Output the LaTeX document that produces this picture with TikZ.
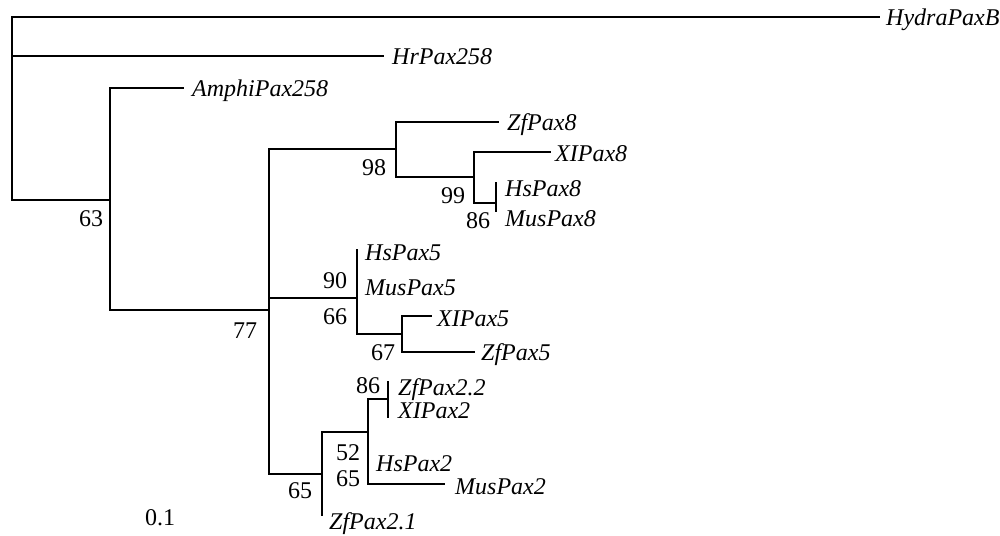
\documentclass[tikz,border=0pt]{standalone}
\usepackage{fontspec}
\setmainfont{Liberation Serif}
\usetikzlibrary{positioning}

\begin{document}
\begin{tikzpicture}[x=1pt, y=-1pt,
	branch/.style={line width=1.8pt, line cap=rect},
	taxon/.style={font=\fontsize{24}{28}\selectfont\itshape, anchor=base west, inner sep=0pt},
	boot/.style={font=\fontsize{24}{28}\selectfont, anchor=base, inner sep=0pt}]
	\useasboundingbox (0,0) rectangle (1000,535);
	% inner nodes
	\coordinate (root) at (12,100);
	\coordinate (n63) at (110,200);
	\coordinate (n77) at (269,310);
	\coordinate (n98) at (396,149);
	\coordinate (n99) at (474,177);
	\coordinate (n86a) at (496,203);
	\coordinate (n90) at (357,298);
	\coordinate (n67) at (402,334);
	\coordinate (n65) at (322,474);
	\coordinate (n52) at (368,432);
	\coordinate (n86b) at (388,399);
	% tips
	\coordinate (t-hydra) at (879,17);
	\coordinate (t-hr) at (383,56);
	\coordinate (t-amphi) at (183,88);
	\coordinate (t-zf8) at (498,122);
	\coordinate (t-xl8) at (550,152);
	\coordinate (t-hs8) at (496,183);
	\coordinate (t-mus8) at (496,211);
	\coordinate (t-hs5) at (357,250);
	\coordinate (t-xl5) at (431,316);
	\coordinate (t-zf5) at (474,352);
	\coordinate (t-zf22) at (388,382);
	\coordinate (t-xl2) at (388,417);
	\coordinate (t-mus2) at (444,484);
	\coordinate (t-zf21) at (322,515);

	% branches
	\draw[branch] (t-hydra) -| (root) |- (n63);
	\draw[branch] (root) |- (t-hr);
	\draw[branch] (t-amphi) -| (n63) |- (n77);
	\draw[branch] (n98) -| (n77) |- (n65);
	\draw[branch] (n77) |- (n90);
	\draw[branch] (t-zf8) -| (n98) |- (n99);
	\draw[branch] (t-xl8) -| (n99) |- (n86a);
	\draw[branch] (t-hs8) -- (t-mus8);
	\draw[branch] (t-hs5) -- (n90) |- (n67);
	\draw[branch] (t-xl5) -| (n67) |- (t-zf5);
	\draw[branch] (n52) -| (n65) -- (t-zf21);
	\draw[branch] (n86b) -| (n52) |- (t-mus2);
	\draw[branch] (t-zf22) -- (t-xl2);

	% taxa
	\node[taxon] (hydra) at (886,26) {HydraPaxB};
	\node[taxon] (hr) at (392,64) {HrPax258};
	\node[taxon] (amphi) at (192,96) {AmphiPax258};
	\node[taxon] (zf8) at (507,130) {ZfPax8};
	\node[taxon] (xl8) at (555,161) {XIPax8};
	\node[taxon] (hs8) at (505,196) {HsPax8};
	\node[taxon] (mus8) at (505,226) {MusPax8};
	\node[taxon] (hs5) at (365,260) {HsPax5};
	\node[taxon] (mus5) at (365,295) {MusPax5};
	\node[taxon] (xl5) at (437,326) {XIPax5};
	\node[taxon] (zf5) at (481,360) {ZfPax5};
	\node[taxon] (zf22) at (398,395) {ZfPax2.2};
	\node[taxon] (xl2) at (398,418) {XIPax2};
	\node[taxon] (hs2) at (376,471) {HsPax2};
	\node[taxon] (mus2) at (455,494) {MusPax2};
	\node[taxon] (zf21) at (329,529) {ZfPax2.1};

	% bootstrap values
	\node[boot] (b63) at (91,226) {63};
	\node[boot] (b77) at (245,338) {77};
	\node[boot] (b98) at (374,175) {98};
	\node[boot] (b99) at (453,203) {99};
	\node[boot] (b86a) at (478,228) {86};
	\node[boot] (b90) at (335,288) {90};
	\node[boot] (b66) at (335,324) {66};
	\node[boot] (b67) at (383,360) {67};
	\node[boot] (b86b) at (368,393) {86};
	\node[boot] (b52) at (348,460) {52};
	\node[boot] (b65a) at (348,486) {65};
	\node[boot] (b65b) at (300,498) {65};
	\node[boot] (scale) at (160,525) {0.1};
\end{tikzpicture}
\end{document}
